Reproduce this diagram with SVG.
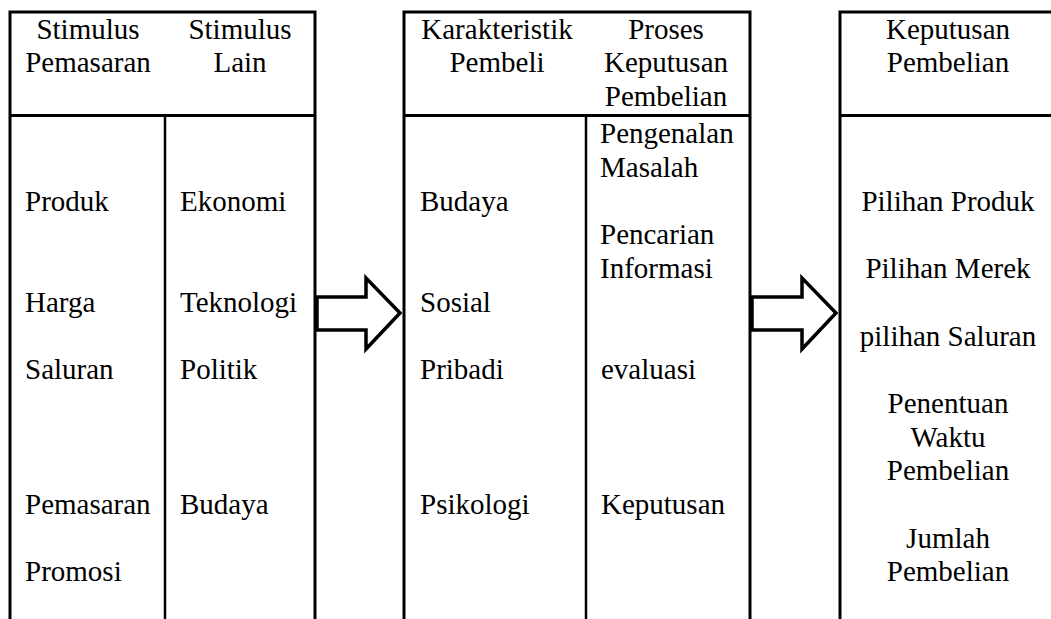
<svg xmlns="http://www.w3.org/2000/svg" width="1051" height="619" viewBox="0 0 1051 619">
<style>
text{font-family:"Liberation Serif","Times New Roman",serif;font-size:29px;fill:#000}
.c{text-anchor:middle}
.b{fill:none;stroke:#000;stroke-width:3}
.d{fill:none;stroke:#000;stroke-width:2.5}
.arr{fill:#fff;stroke:#000;stroke-width:3.5;stroke-linejoin:miter;stroke-miterlimit:10}
</style>
<rect width="1051" height="619" fill="#fff"/>
<g id="box-stimulus">
<path class="b" d="M10,619V12H315V619M10,115.5H315"/>
<path class="d" d="M165,115.5V619"/>
<text class="c" x="88" y="38.5">Stimulus</text>
<text class="c" x="88" y="72">Pemasaran</text>
<text class="c" x="240" y="38.5">Stimulus</text>
<text class="c" x="240" y="72">Lain</text>
<text x="25" y="210.7">Produk</text>
<text x="25" y="311.8">Harga</text>
<text x="25" y="379.2">Saluran</text>
<text x="25" y="514">Pemasaran</text>
<text x="25" y="581.4">Promosi</text>
<text x="180" y="210.7">Ekonomi</text>
<text x="180" y="311.8">Teknologi</text>
<text x="180" y="379.2">Politik</text>
<text x="180" y="514">Budaya</text>
</g>
<g id="box-pembeli">
<path class="b" d="M404,619V12H750V619M404,115.5H750"/>
<path class="d" d="M586,115.5V619"/>
<text class="c" x="497" y="38.5">Karakteristik</text>
<text class="c" x="497" y="72">Pembeli</text>
<text class="c" x="666" y="38.5">Proses</text>
<text class="c" x="666" y="72">Keputusan</text>
<text class="c" x="666" y="105.5">Pembelian</text>
<text x="420" y="210.7">Budaya</text>
<text x="420" y="311.8">Sosial</text>
<text x="420" y="379.2">Pribadi</text>
<text x="420" y="514">Psikologi</text>
<text x="600" y="143.3">Pengenalan</text>
<text x="600" y="177">Masalah</text>
<text x="600" y="244.4">Pencarian</text>
<text x="600" y="278.1">Informasi</text>
<text x="601" y="379.2">evaluasi</text>
<text x="601" y="514">Keputusan</text>
</g>
<g id="box-keputusan">
<path class="b" d="M840,619V12H1051M840,115.5H1051"/>
<text class="c" x="948" y="38.5">Keputusan</text>
<text class="c" x="948" y="72">Pembelian</text>
<text class="c" x="948" y="210.7">Pilihan Produk</text>
<text class="c" x="948" y="278.1">Pilihan Merek</text>
<text class="c" x="948" y="345.5">pilihan Saluran</text>
<text class="c" x="948" y="412.9">Penentuan</text>
<text class="c" x="948" y="446.6">Waktu</text>
<text class="c" x="948" y="480.3">Pembelian</text>
<text class="c" x="948" y="547.7">Jumlah</text>
<text class="c" x="948" y="581.4">Pembelian</text>
</g>
<g id="connectors">
<polygon class="arr" points="317,297 366,297 366,278 400,313 366,349 366,330 317,330"/>
<polygon class="arr" points="752,297 802,297 802,278 836,313 802,349 802,330 752,330"/>
</g>
</svg>
